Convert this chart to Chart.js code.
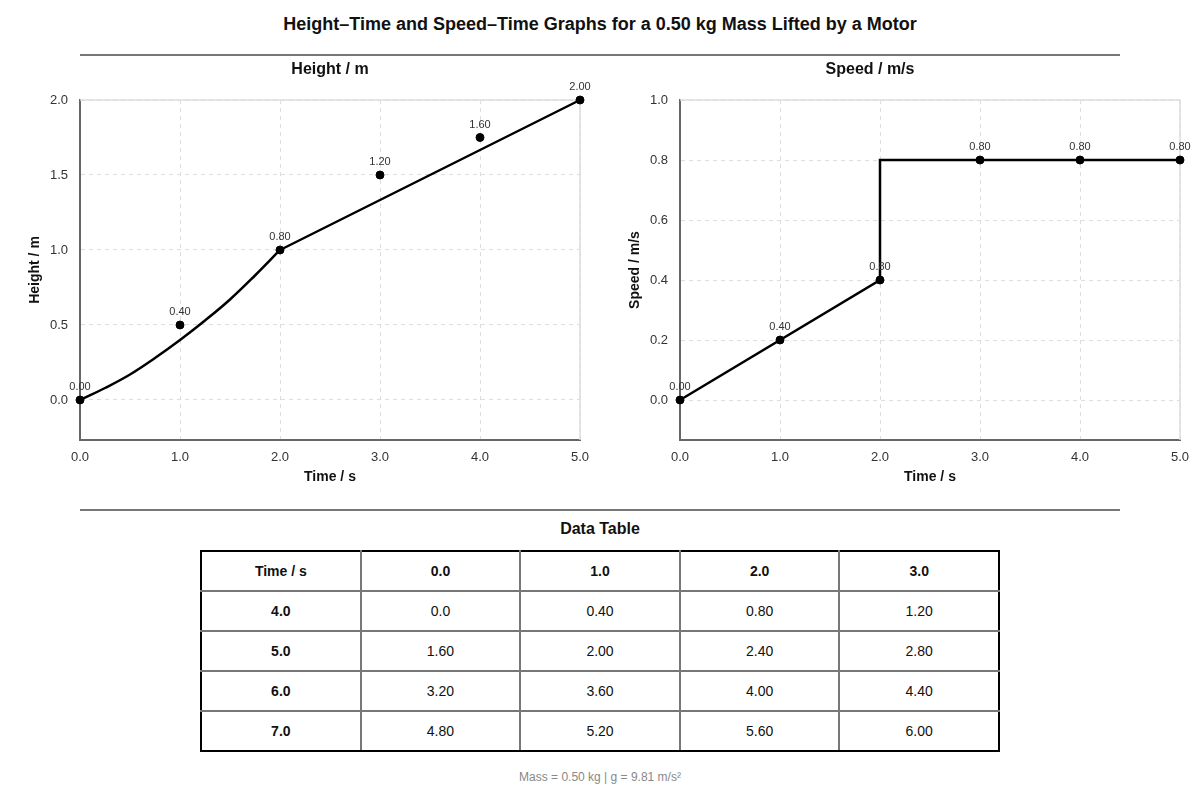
<!DOCTYPE html>
<html>
<head>
<meta charset="utf-8">
<script src="https://cdn.jsdelivr.net/npm/chart.js@4.4.0/dist/chart.umd.min.js"></script>
<style>
  body { margin: 0; width: 1200px; height: 800px; background: #fff; font-family: "Liberation Sans", Arial, sans-serif; color: #111; position: relative; overflow: hidden; }
  .title { position: absolute; top: 14px; left: 0; width: 1200px; text-align: center; font-size: 18px; font-weight: bold; }
  .rule { position: absolute; left: 80px; width: 1040px; height: 0; border-top: 2px solid #777; }
  .box { position: absolute; top: 55px; width: 600px; height: 435px; }
  .ptitle { position: absolute; top: 60px; width: 300px; text-align: center; font-size: 16px; font-weight: bold; }
  .subtitle { position: absolute; top: 520px; left: 0; width: 1200px; text-align: center; font-size: 16px; font-weight: bold; }
  table { position: absolute; left: 200px; top: 550px; width: 800px; border-collapse: collapse; font-size: 14px; }
  td { width: 160px; height: 38px; padding: 0; text-align: center; border: 2px solid #777; }
  tr:first-child td { border-top-color: #000; font-weight: bold; }
  tr:last-child td { border-bottom-color: #000; }
  td:first-child { border-left-color: #000; font-weight: bold; }
  td:last-child { border-right-color: #000; }
  .foot { position: absolute; top: 770px; left: 0; width: 1200px; text-align: center; font-size: 12px; color: #888; }
</style>
</head>
<body>
<div class="title">Height–Time and Speed–Time Graphs for a 0.50 kg Mass Lifted by a Motor</div>
<div class="rule" style="top:54px"></div>
<div class="box" style="left:0"><canvas id="heightChart"></canvas></div>
<div class="box" style="left:600px"><canvas id="speedChart"></canvas></div>
<div class="ptitle" style="left:180px">Height / m</div>
<div class="ptitle" style="left:720px">Speed / m/s</div>
<div class="rule" style="top:509px"></div>
<div class="subtitle">Data Table</div>
<table id="dataTable"></table>
<div class="foot">Mass = 0.50 kg | g = 9.81 m/s²</div>

<script>
// ---- DATA ----
const timePts = [0, 1, 2, 3, 4, 5];
const heightPts = [0, 0.5, 1.0, 1.5, 1.75, 2.0];
const heightLabels = ["0.00", "0.40", "0.80", "1.20", "1.60", "2.00"];

// height line
const heightCurveT = [0, 0.25, 0.5, 0.75, 1.0, 1.25, 1.5, 1.75, 2.0];
const heightCurveV = [0, 0.08, 0.17, 0.28, 0.40, 0.53, 0.67, 0.83, 1.0];
const heightStraightT = [2, 5];
const heightStraightV = [1.0, 2.0];

const speedPts = [0, 0.2, 0.4, 0.8, 0.8, 0.8];
const speedLabels = ["0.00", "0.40", "0.80", "0.80", "0.80", "0.80"];
const speedLineT = [0, 2, 2, 5];
const speedLineV = [0, 0.4, 0.8, 0.8];

const xTicks = [0, 1, 2, 3, 4, 5];
const heightTicks = [0, 0.5, 1.0, 1.5, 2.0];
const speedTicks = [0, 0.2, 0.4, 0.6, 0.8, 1.0];

const tableHead = ["Time / s", "0.0", "1.0", "2.0", "3.0"];
const tableRowHeads = ["4.0", "5.0", "6.0", "7.0"];
const tableRows = [
  ["0.0", "0.40", "0.80", "1.20"],
  ["1.60", "2.00", "2.40", "2.80"],
  ["3.20", "3.60", "4.00", "4.40"],
  ["4.80", "5.20", "5.60", "6.00"]
];

// ---- TABLE ----
const table = document.getElementById("dataTable");
let html = "<tr>" + tableHead.map(h => `<td>${h}</td>`).join("") + "</tr>";
tableRows.forEach((row, i) => {
  html += `<tr><td>${tableRowHeads[i]}</td>` + row.map(v => `<td>${v}</td>`).join("") + "</tr>";
});
table.innerHTML = html;

// ---- CHARTS ----
Chart.defaults.font.family = '"Liberation Sans", Arial, sans-serif';
Chart.defaults.color = "#333";

const toXY = (xs, ys) => xs.map((x, i) => ({ x: x, y: ys[i] }));

// labels above points
const pointLabels = {
  id: "pointLabels",
  afterDatasetsDraw(chart) {
    const ctx = chart.ctx;
    chart.data.datasets.forEach((ds, i) => {
      if (!ds.valueLabels) return;
      const meta = chart.getDatasetMeta(i);
      ctx.save();
      ctx.font = '11px "Liberation Sans", Arial, sans-serif';
      ctx.fillStyle = "#333";
      ctx.textAlign = "center";
      ctx.textBaseline = "middle";
      meta.data.forEach((pt, j) => ctx.fillText(ds.valueLabels[j], pt.x, pt.y - 13));
      ctx.restore();
    });
  }
};

// light frame on top and right
const frame = {
  id: "frame",
  beforeDatasetsDraw(chart) {
    const { ctx, chartArea: a } = chart;
    ctx.save();
    ctx.strokeStyle = "#ddd";
    ctx.lineWidth = 1.5;
    ctx.beginPath();
    ctx.moveTo(a.left, a.top);
    ctx.lineTo(a.right, a.top);
    ctx.lineTo(a.right, a.bottom);
    ctx.stroke();
    ctx.restore();
  }
};

function makeOptions(yTitle, yMin, yMax, yTicks) {
  return {
    responsive: true,
    maintainAspectRatio: false,
    animation: false,
    layout: { padding: { top: 45, left: 0, right: 20, bottom: 0 } },
    plugins: {
      legend: { display: false },
      tooltip: { enabled: false },
      title: { display: false }
    },
    scales: {
      x: {
        type: "linear", min: 0, max: 5,
        afterBuildTicks: s => { s.ticks = xTicks.map(v => ({ value: v })); },
        afterFit: s => { s.height = 50; },
        ticks: { padding: 10, font: { size: 13 }, callback: v => v.toFixed(1) },
        grid: { color: "#ddd", drawTicks: false },
        border: { color: "#666", width: 2, dash: [4, 4] },
        title: { display: true, text: "Time / s", color: "#111", font: { size: 14, weight: "bold" }, padding: { top: 0, bottom: 4 } }
      },
      y: {
        type: "linear", min: yMin, max: yMax,
        afterBuildTicks: s => { s.ticks = yTicks.map(v => ({ value: v })); },
        afterFit: s => { s.width = 80; },
        ticks: { padding: 12, font: { size: 13 }, callback: v => v.toFixed(1) },
        grid: { color: "#ddd", drawTicks: false },
        border: { color: "#666", width: 2, dash: [4, 4] },
        title: { display: true, text: yTitle, color: "#111", font: { size: 14, weight: "bold" }, padding: { top: 27, bottom: 0 } }
      }
    }
  };
}

const lineStyle = { showLine: true, borderColor: "#000", borderWidth: 2.5, pointRadius: 0, clip: false };
const dotStyle = { showLine: false, pointRadius: 4, pointBackgroundColor: "#000", pointBorderColor: "#000", clip: false };

new Chart(document.getElementById("heightChart"), {
  type: "scatter",
  data: {
    datasets: [
      Object.assign({ data: toXY(heightCurveT, heightCurveV), tension: 0.4 }, lineStyle),
      Object.assign({ data: toXY(heightStraightT, heightStraightV) }, lineStyle),
      Object.assign({ data: toXY(timePts, heightPts), valueLabels: heightLabels }, dotStyle)
    ]
  },
  options: makeOptions("Height / m", -0.2667, 2.0, heightTicks),
  plugins: [frame, pointLabels]
});

new Chart(document.getElementById("speedChart"), {
  type: "scatter",
  data: {
    datasets: [
      Object.assign({ data: toXY(speedLineT, speedLineV) }, lineStyle),
      Object.assign({ data: toXY(timePts, speedPts), valueLabels: speedLabels }, dotStyle)
    ]
  },
  options: makeOptions("Speed / m/s", -0.1333, 1.0, speedTicks),
  plugins: [frame, pointLabels]
});
</script>
</body>
</html>
